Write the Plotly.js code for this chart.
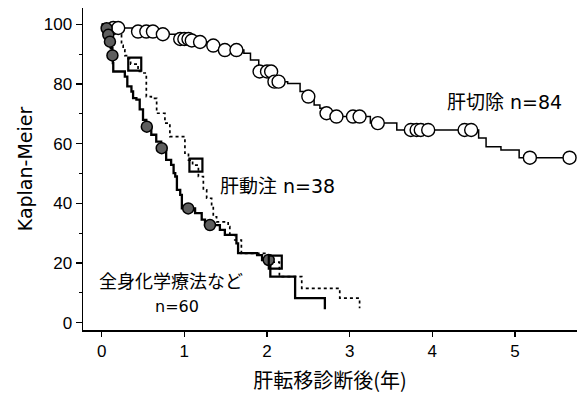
<!DOCTYPE html>
<html>
<head>
<meta charset="utf-8">
<script src="https://cdn.plot.ly/plotly-3.0.1.min.js"></script>
<style>html,body{margin:0;padding:0;background:#fff;}#chart{width:587px;height:400px;}</style>
</head>
<body>
<div id="chart"></div>
<script>
// 肝切除 n=84 (open circles, thin solid line)
const hepTimes = [0, 0.10, 0.40, 0.70, 0.90, 1.07, 1.15, 1.30, 1.45, 1.72, 1.80, 1.90, 2.07, 2.25, 2.40, 2.45, 2.57, 2.64, 2.70, 2.78, 3.25, 3.57, 4.56, 4.65, 4.83, 5.05, 5.66];
const hepSurv  = [100, 98.8, 97.6, 96.7, 95.1, 94.6, 94.1, 92.9, 91.4, 90.3, 88.1, 84.2, 80.8, 80.2, 77.5, 75.8, 73.0, 71.9, 70.2, 69.1, 66.9, 64.6, 61.9, 59.0, 57.9, 55.3, 55.3];
const hepCensor = [0.14, 0.20, 0.44, 0.54, 0.62, 0.74, 0.95, 1.00, 1.05, 1.09, 1.19, 1.35, 1.49, 1.63, 1.91, 2.00, 2.05, 2.09, 2.14, 2.50, 2.72, 2.84, 3.04, 3.12, 3.34, 3.74, 3.81, 3.86, 3.95, 4.39, 4.47, 5.18, 5.66];

// 肝動注 n=38 (open squares, dotted line)
const haiTimes = [0, 0.22, 0.24, 0.26, 0.28, 0.32, 0.35, 0.44, 0.50, 0.54, 0.60, 0.665, 0.765, 0.825, 1.007, 1.05, 1.10, 1.17, 1.23, 1.27, 1.33, 1.35, 1.39, 1.53, 1.55, 1.61, 1.69, 2.01, 2.06, 2.15, 2.42, 2.88, 3.12];
const haiSurv  = [100, 96.5, 93.0, 91.5, 89.5, 88.5, 86.7, 84.2, 83.7, 75.8, 75.2, 70.2, 66.9, 62.4, 56.8, 54.5, 52.8, 49.0, 44.5, 41.7, 38.9, 35.5, 33.8, 32.2, 29.4, 27.7, 23.2, 22.1, 20.3, 15.4, 11.5, 8.2, 4.8];
const haiCensor = [0.40, 1.14, 2.10];

// 全身化学療法など n=60 (grey filled circles, thick solid line)
const chemoTimes = [0, 0.05, 0.07, 0.09, 0.11, 0.13, 0.135, 0.14, 0.28, 0.31, 0.36, 0.38, 0.42, 0.46, 0.50, 0.54, 0.60, 0.66, 0.72, 0.78, 0.84, 0.87, 0.89, 0.91, 0.95, 0.97, 1.13, 1.21, 1.25, 1.43, 1.49, 1.63, 1.65, 1.88, 1.94, 2.04, 2.34, 2.70];
const chemoSurv  = [100, 98.7, 96.5, 94.2, 92.0, 89.6, 87.0, 84.2, 82.5, 79.2, 77.5, 75.3, 74.8, 71.5, 68.0, 65.7, 63.0, 60.7, 58.5, 54.6, 52.9, 50.1, 49.0, 44.5, 42.8, 38.3, 36.7, 34.5, 32.7, 31.1, 29.4, 26.6, 23.3, 22.6, 21.0, 15.4, 8.2, 4.5];
const chemoCensor = [0.06, 0.08, 0.10, 0.13, 0.546, 0.726, 1.047, 1.31, 2.02];

const xTickVals = [0, 1, 2, 3, 4, 5];
const yTickVals = [0, 20, 40, 60, 80, 100];

function stepAt(times, surv, t) {
  let s = surv[0];
  for (let i = 0; i < times.length; i++) { if (times[i] <= t) s = surv[i]; }
  return s;
}

const latin = 'Liberation Sans, Arial, sans-serif';
const wide = 'DejaVu Sans, sans-serif';
const cjk = 'Noto Sans CJK JP, sans-serif';

const traces = [
  {x: hepTimes, y: hepSurv, mode: 'lines', line: {shape: 'hv', color: '#000', width: 1.5}, hoverinfo: 'skip'},
  {x: haiTimes, y: haiSurv, mode: 'lines', line: {shape: 'hv', color: '#000', width: 1.7, dash: 'dot'}, hoverinfo: 'skip'},
  {x: chemoTimes, y: chemoSurv, mode: 'lines', line: {shape: 'hv', color: '#000', width: 2.3}, hoverinfo: 'skip'},
  {x: hepCensor, y: hepCensor.map(t => stepAt(hepTimes, hepSurv, t)), mode: 'markers', cliponaxis: false,
   marker: {symbol: 'circle', size: 13, color: '#fff', line: {color: '#000', width: 1.4}}},
  {x: chemoCensor, y: chemoCensor.map(t => stepAt(chemoTimes, chemoSurv, t)), mode: 'markers', cliponaxis: false,
   marker: {symbol: 'circle', size: 11, color: '#5e5e5e', line: {color: '#000', width: 1.5}}},
  {x: haiCensor, y: haiCensor.map(t => stepAt(haiTimes, haiSurv, t)), mode: 'markers', cliponaxis: false,
   marker: {symbol: 'square', size: 13, color: 'rgba(255,255,255,0)', line: {color: '#000', width: 2.2}}}
];

const layout = {
  width: 587, height: 400,
  margin: {l: 83, r: 10, t: 8, b: 70},
  paper_bgcolor: '#fff', plot_bgcolor: '#fff',
  showlegend: false,
  font: {family: latin, color: '#000', size: 16},
  xaxis: {
    range: [-0.226, 5.75], showgrid: false, zeroline: false,
    showline: true, linecolor: '#000', linewidth: 1.5,
    ticks: 'outside', ticklen: 5, tickwidth: 1.5, tickcolor: '#000',
    tickvals: xTickVals, ticktext: xTickVals.map(String),
    tickfont: {family: latin, size: 17},
    title: {text: '肝転移診断後(年)', font: {family: cjk, size: 20}, standoff: 14}
  },
  yaxis: {
    range: [-2.48, 105.5], showgrid: false, zeroline: false,
    showline: true, linecolor: '#000', linewidth: 1.5,
    ticks: 'outside', ticklen: 6, tickwidth: 1.5, tickcolor: '#000',
    tickvals: yTickVals, ticktext: yTickVals.map(String),
    tickfont: {family: latin, size: 17},
    minor: {ticks: 'outside', ticklen: 3, tickwidth: 1.2, tickcolor: '#000', dtick: 10, tick0: 0, showgrid: false},
    title: {text: 'Kaplan-Meier', font: {family: wide, size: 19}, standoff: 6}
  },
  annotations: [
    {xref: 'x', yref: 'y', x: 4.15, y: 74.6, xanchor: 'left', yanchor: 'middle', showarrow: false,
     text: '<span style="font-family:Noto Sans CJK JP">肝切除</span> n=84', font: {family: wide, size: 19}},
    {xref: 'x', yref: 'y', x: 1.41, y: 46.2, xanchor: 'left', yanchor: 'middle', showarrow: false,
     text: '<span style="font-family:Noto Sans CJK JP">肝動注</span> n=38', font: {family: wide, size: 19}},
    {xref: 'x', yref: 'y', x: -0.06, y: 14.4, xanchor: 'left', yanchor: 'middle', showarrow: false,
     text: '全身化学療法など', font: {family: cjk, size: 18}},
    {xref: 'x', yref: 'y', x: 0.91, y: 5.4, xanchor: 'center', yanchor: 'middle', showarrow: false,
     text: 'n=60', font: {family: wide, size: 16}}
  ]
};

Plotly.newPlot('chart', traces, layout, {staticPlot: true, displayModeBar: false});
</script>
</body>
</html>
